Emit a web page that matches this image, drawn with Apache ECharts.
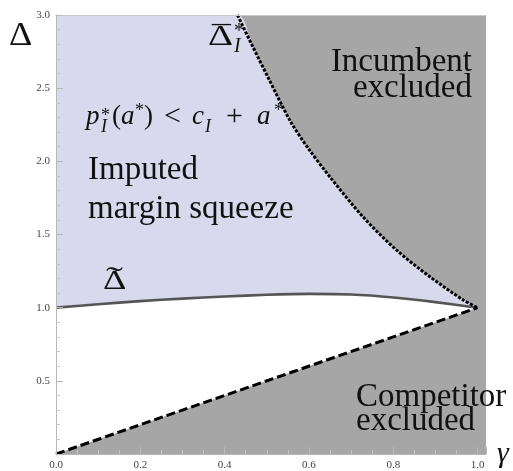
<!DOCTYPE html>
<html><head><meta charset="utf-8">
<script src="https://cdn.jsdelivr.net/npm/echarts@6/dist/echarts.min.js"></script>
<style>html,body{margin:0;padding:0;background:#fff}#c{width:513px;height:471px}</style>
</head><body><div id="c"></div>
<script>
// ---- data ----
const gammaMax = 1.02;
const deltaMax = 3;
// Delta-tilde curve (solid)
const tildeGamma = [0, 0.1, 0.2, 0.3, 0.4, 0.5, 0.6, 0.7, 0.8, 0.9, 1.0];
const tildeDelta = [1.0, 1.023, 1.045, 1.062, 1.076, 1.088, 1.094, 1.090, 1.070, 1.038, 1.0];
// Delta-bar*_I curve (dotted)
const barGamma = [0.4305, 0.464, 0.503, 0.555, 0.598, 0.653, 0.728, 0.807, 0.886, 0.965, 1.0];
const barDelta = [3.0, 2.80, 2.573, 2.279, 2.09, 1.882, 1.621, 1.395, 1.213, 1.054, 1.0];
// Competitor-exclusion boundary (dashed)
const compGamma = [0, 1.0];
const compDelta = [0, 1.0];
// tick labels
const xTickLabels = ['0.0', '0.2', '0.4', '0.6', '0.8', '1.0'];
const yTickLabels = ['0.5', '1.0', '1.5', '2.0', '2.5', '3.0'];

const GRAY = '#a6a6a6', LAV = '#d9d9ed';
const zip = (a, b) => a.map((v, i) => [v, b[i]]);
const fmt = (labels) => (v) => labels.find(l => Math.abs(parseFloat(l) - v) < 1e-6) || '';

const chart = echarts.init(document.getElementById('c'), null, {renderer: 'canvas'});
const axisCommon = {
  type: 'value', z: 5,
  axisLine: {show: true, lineStyle: {color: '#b8b8b8', width: 1}},
  axisTick: {show: true, inside: true, length: 7, lineStyle: {color: '#b8b8b8'}},
  minorTick: {show: true, length: 4, lineStyle: {color: '#c4c4c4'}},
  splitLine: {show: false},
  axisLabel: {fontFamily: 'Liberation Serif', fontSize: 11, color: '#444'}
};
const fillSeries = (data, color, smooth) => ({
  type: 'line', data, symbol: 'none', z: 1, silent: true,
  lineStyle: {width: 0, opacity: 0}, areaStyle: {color, opacity: 1},
  smooth: smooth || false
});
const t = (x, y, text, o = {}) => ({
  type: 'text', x, y, z: 100, silent: true,
  scaleX: o.sx || 1,
  style: {
    text, fill: '#111',
    font: (o.italic ? 'italic ' : '') + (o.fs || 33) + 'px "Liberation Serif"',
    align: o.align || 'left', verticalAlign: 'middle'
  }
});

const lastComp = compDelta[compDelta.length - 1];

chart.setOption({
  animation: false,
  backgroundColor: '#fff',
  grid: {left: 56, right: 27, top: 15, bottom: 16},
  xAxis: [
    Object.assign({}, axisCommon, {min: 0, max: gammaMax, interval: 0.2, minorTick: Object.assign({}, axisCommon.minorTick, {splitNumber: 4}),
      axisLabel: Object.assign({}, axisCommon.axisLabel, {margin: 6, formatter: fmt(xTickLabels), showMaxLabel: false})}),
    {type: 'value', position: 'top', min: 0, max: gammaMax, z: 5,
      axisLine: {show: true, lineStyle: {color: '#c8c8c8'}}, axisTick: {show: false}, axisLabel: {show: false}, splitLine: {show: false}}
  ],
  yAxis: Object.assign({}, axisCommon, {min: 0, max: deltaMax, interval: 0.5, minorTick: Object.assign({}, axisCommon.minorTick, {splitNumber: 5}),
    axisLabel: Object.assign({}, axisCommon.axisLabel, {margin: 6, formatter: fmt(yTickLabels)})}),
  series: [
    fillSeries([[0, deltaMax], [gammaMax, deltaMax]], GRAY),
    fillSeries([[0, deltaMax]].concat(zip(barGamma, barDelta)), LAV, 0.3),
    fillSeries(zip(tildeGamma, tildeDelta), '#ffffff', 0.3),
    fillSeries(zip(compGamma, compDelta).concat([[gammaMax, lastComp]]), GRAY),
    {type: 'line', data: zip(tildeGamma, tildeDelta), symbol: 'none', z: 2, smooth: 0.3,
      lineStyle: {color: '#555', width: 2.6}},
    {type: 'line', data: zip(barGamma, barDelta), symbol: 'none', z: 2, smooth: 0.3,
      lineStyle: {color: '#000', width: 3, type: [3, 1.6]}},
    {type: 'line', data: zip(compGamma, compDelta), symbol: 'none', z: 2,
      lineStyle: {color: '#000', width: 3, type: [9, 4]}}
  ],
  graphic: [
    t(9, 36, 'Δ', {fs: 33, sx: 1.1}),
    t(497, 454, 'γ', {fs: 30, italic: true}),
    t(472, 62, 'Incumbent', {align: 'right'}),
    t(472, 88, 'excluded', {align: 'right'}),
    t(356, 397, 'Competitor'),
    t(356, 421, 'excluded'),
    t(88, 170, 'Imputed'),
    t(88, 209, 'margin squeeze'),
    // Delta-tilde label
    t(103, 282, 'Δ', {fs: 28, sx: 1.3}),
    t(106, 279, '˜', {fs: 30, sx: 1.7}),
    // Delta-bar*_I label
    t(208, 37, 'Δ', {fs: 30, sx: 1.3}),
    t(212, 38, '¯', {fs: 30, sx: 1.25}),
    t(234, 32, '*', {fs: 20}),
    t(234, 47, 'I', {fs: 20, italic: true}),
    // p*_I(a*) < c_I + a*
    t(86, 117, 'p', {fs: 27, italic: true}),
    t(101, 116, '*', {fs: 18}),
    t(101, 127, 'I', {fs: 18, italic: true}),
    t(112, 117, '(', {fs: 27}),
    t(121, 117, 'a', {fs: 27, italic: true}),
    t(135, 111, '*', {fs: 18}),
    t(144, 117, ')', {fs: 27}),
    t(164, 117, '<', {fs: 30}),
    t(192, 117, 'c', {fs: 27, italic: true}),
    t(205, 127, 'I', {fs: 18, italic: true}),
    t(226, 117, '+', {fs: 30}),
    t(257, 117, 'a', {fs: 27, italic: true}),
    t(274, 111, '*', {fs: 18})
  ]
});
</script></body></html>
